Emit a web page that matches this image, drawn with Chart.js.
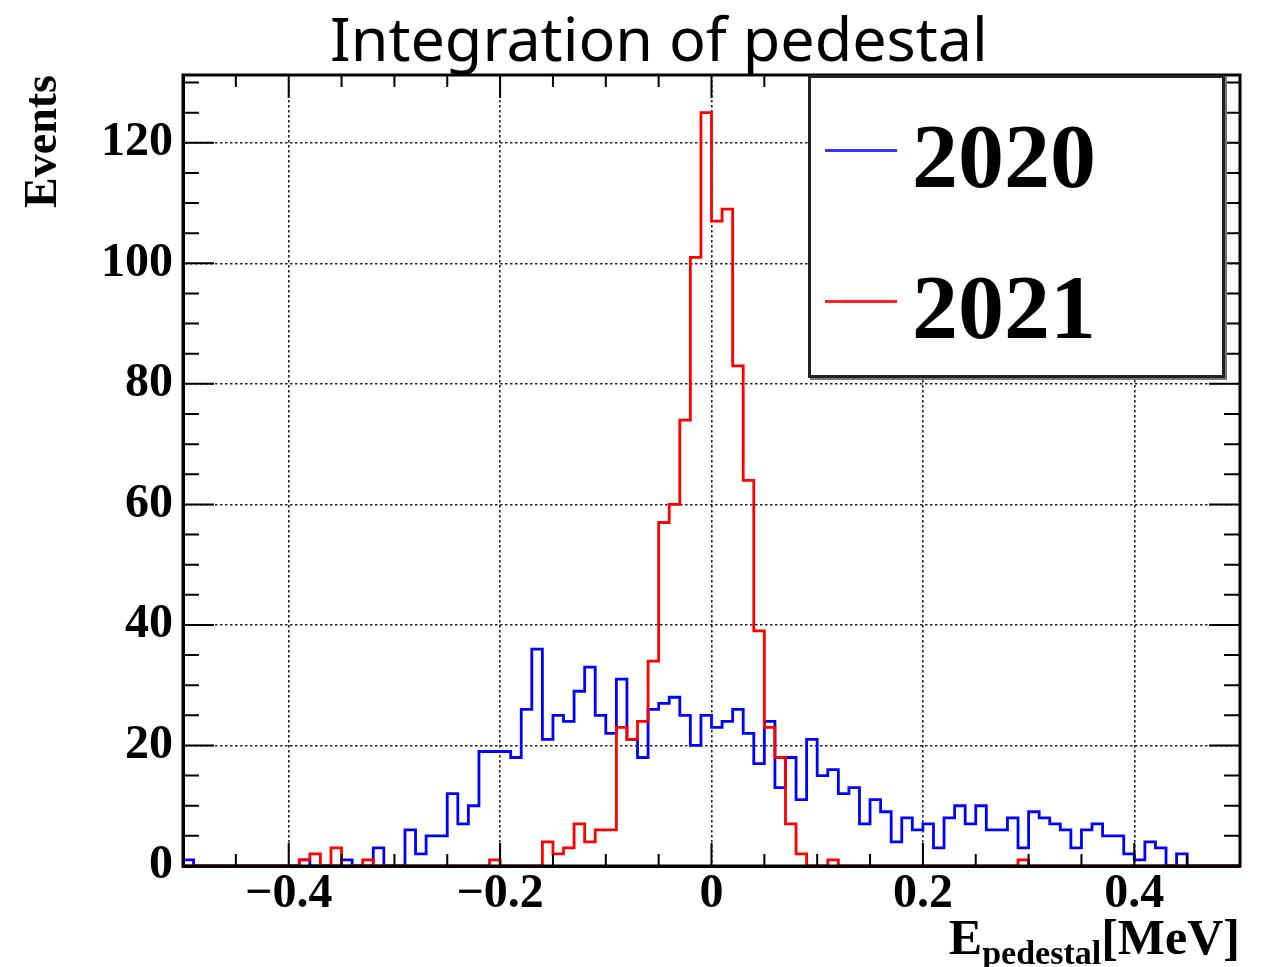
<!DOCTYPE html>
<html>
<head>
<meta charset="utf-8">
<script src="https://cdn.jsdelivr.net/npm/chart.js@4/dist/chart.umd.min.js"></script>
<style>
html,body{margin:0;padding:0;background:#fff;}
#wrap{position:relative;width:1263px;height:967px;overflow:hidden;background:#fff;}
#c{position:absolute;left:0;top:0;}
#title{position:absolute;left:330px;top:10px;font-family:'Noto Sans',sans-serif;font-weight:400;font-size:58px;line-height:1;white-space:nowrap;color:#000;}
#legend{position:absolute;left:808px;top:75px;width:417px;height:303px;box-sizing:border-box;border:3px solid #222;background:#fff;box-shadow:2px 2px 0 #777;}
.lg-line{position:absolute;left:14px;width:72px;height:3px;}
.lg-text{position:absolute;left:101px;font-family:'Liberation Serif',serif;font-weight:bold;font-size:92px;line-height:1;color:#000;white-space:nowrap;}
#xtitle{position:absolute;right:23px;top:912px;font-family:'Liberation Serif',serif;font-weight:bold;font-size:50px;line-height:1;white-space:nowrap;color:#000;}
#xtitle sub{font-size:34px;vertical-align:baseline;position:relative;top:10px;}
</style>
</head>
<body>
<div id="wrap">
  <canvas id="c" width="1263" height="967"></canvas>
  <div id="title">Integration of pedestal</div>
  <div id="legend">
    <div class="lg-line" style="top:71px;background:#3333ff;"></div>
    <div class="lg-text" style="top:32px;">2020</div>
    <div class="lg-line" style="top:222px;background:#ff2020;"></div>
    <div class="lg-text" style="top:183px;">2021</div>
  </div>
  <div id="xtitle">E<sub>pedestal</sub>[MeV]</div>
</div>
<script>
// Histogram definition: 100 bins from -0.5 to 0.5 MeV
const xMin = -0.5;
const xMax = 0.5;
const binWidth = 0.01;

const seriesLabels = ['2020', '2021'];

const counts2020 = [
  1,0,0,0,0,0,0,0,0,0,
  0,1,0,0,0,1,0,0,3,0,
  0,6,2,5,5,12,7,10,19,19,
  19,18,26,36,21,25,24,29,33,25,
  22,31,21,18,26,27,28,25,20,25,
  23,24,26,22,17,24,13,18,11,21,
  15,16,12,13,7,11,9,4,8,6,
  7,3,8,10,7,10,6,6,8,3,
  9,8,7,6,3,6,7,5,5,2,
  1,4,3,0,2,0,0,0,0,0
];

const counts2021 = [
  0,0,0,0,0,0,0,0,0,0,
  0,1,2,0,3,0,0,1,0,0,
  0,0,0,0,0,0,0,0,0,1,
  0,0,0,0,4,2,3,7,4,6,
  6,23,21,24,34,57,60,74,101,125,
  107,109,83,64,39,23,18,7,2,0,
  0,1,0,0,0,0,0,0,0,0,
  0,0,0,0,0,0,0,0,0,1,
  0,0,0,0,0,0,0,0,0,0,
  0,0,0,0,0,0,0,0,0,0
];

const xMajorTicks = [-0.4, -0.2, 0, 0.2, 0.4];
const xMinorTicks = [-0.5,-0.45,-0.4,-0.35,-0.3,-0.25,-0.2,-0.15,-0.1,-0.05,0,0.05,0.1,0.15,0.2,0.25,0.3,0.35,0.4,0.45,0.5];
const yMajorTicks = [0, 20, 40, 60, 80, 100, 120];
const yMinorTicks = [0,5,10,15,20,25,30,35,40,45,50,55,60,65,70,75,80,85,90,95,100,105,110,115,120,125,130];
const yMax = 131.25;

function toSteps(counts) {
  const pts = counts.map((v, i) => ({ x: xMin + i * binWidth, y: v }));
  pts.push({ x: xMax, y: counts[counts.length - 1] });
  return pts;
}

// fit the title width
(function () {
  const t = document.getElementById('title');
  const m = document.createElement('canvas').getContext('2d');
  m.font = "400 100px 'Noto Sans'";
  const w = m.measureText(t.textContent).width;
  const fs = 100 * 658 / w;
  t.style.fontSize = fs + 'px';
  t.style.top = (61 - 0.888 * fs) + 'px';
})();

const framePlugin = {
  id: 'frame',
  afterDraw(chart) {
    const { ctx, chartArea: a, scales: { x, y } } = chart;
    ctx.save();
    ctx.strokeStyle = '#000';
    ctx.lineWidth = 2;
    ctx.beginPath();
    xMinorTicks.forEach(v => {
      const px = x.getPixelForValue(v);
      const L = xMajorTicks.includes(v) ? 23 : 12;
      ctx.moveTo(px, a.bottom); ctx.lineTo(px, a.bottom - L);
      ctx.moveTo(px, a.top); ctx.lineTo(px, a.top + L);
    });
    yMinorTicks.forEach(v => {
      const py = y.getPixelForValue(v);
      const L = yMajorTicks.includes(v) ? 31 : 16;
      ctx.moveTo(a.left, py); ctx.lineTo(a.left + L, py);
      ctx.moveTo(a.right, py); ctx.lineTo(a.right - L, py);
    });
    ctx.stroke();
    ctx.lineWidth = 3;
    ctx.strokeRect(a.left, a.top, a.right - a.left, a.bottom - a.top);
    ctx.restore();
  }
};

const tickFont = { family: "'Liberation Serif', serif", weight: 'bold', size: 48 };

new Chart(document.getElementById('c'), {
  type: 'line',
  data: {
    datasets: [
      { label: seriesLabels[0], data: toSteps(counts2020), borderColor: '#0000ff', borderWidth: 2.8,
        stepped: true, pointRadius: 0, fill: false, order: 1 },
      { label: seriesLabels[1], data: toSteps(counts2021), borderColor: '#ff0000', borderWidth: 2.8,
        stepped: true, pointRadius: 0, fill: false, order: 0 }
    ]
  },
  options: {
    responsive: false,
    animation: false,
    devicePixelRatio: 1,
    layout: { padding: { top: 75, right: 23, left: 0, bottom: 0 } },
    plugins: { legend: { display: false }, title: { display: false }, tooltip: { enabled: false } },
    scales: {
      x: {
        type: 'linear', min: xMin, max: xMax,
        afterBuildTicks: s => { s.ticks = xMajorTicks.map(v => ({ value: v })); },
        afterFit: s => { s.height = 101; },
        ticks: {
          font: tickFont, color: '#000', padding: 0, maxRotation: 0, autoSkip: false,
          callback: v => v === 0 ? '0' : (v < 0 ? '\u2212' + Math.abs(v) : String(v))
        },
        grid: { color: '#222', lineWidth: 1.6, drawTicks: false },
        border: { color: '#000', width: 3, dash: [2.5, 2.5] }
      },
      y: {
        min: 0, max: yMax,
        afterBuildTicks: s => { s.ticks = yMajorTicks.map(v => ({ value: v })); },
        afterFit: s => { s.width = 183; },
        ticks: { font: tickFont, color: '#000', padding: 10 },
        grid: { color: '#222', lineWidth: 1.6, drawTicks: false },
        border: { color: '#000', width: 3, dash: [2.5, 2.5] },
        title: {
          display: true, text: 'Events', align: 'end', color: '#000',
          font: { family: "'Liberation Serif', serif", weight: 'bold', size: 46 },
          padding: { top: 17, bottom: 0 }
        }
      }
    }
  },
  plugins: [framePlugin]
});
</script>
</body>
</html>
